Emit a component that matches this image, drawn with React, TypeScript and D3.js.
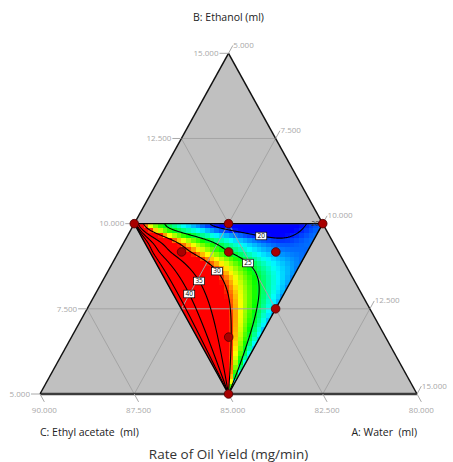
import * as d3 from "d3";
import { useMemo } from "react";

const W = 453;
const H = 462;

// design points (ml): A water, B ethanol, C ethyl acetate
const waterA = [5, 7.5, 10, 6.67, 7.92, 9.17, 10, 9.17, 10];
const ethanolB = [10, 10, 10, 9.17, 9.17, 9.17, 7.5, 6.67, 5];
const ethylC = [85, 82.5, 80, 84.17, 82.92, 81.67, 82.5, 84.17, 85];

// constrained design region corners
const regionA = [5, 10, 10];
const regionB = [10, 10, 5];

const bTicks = [5, 7.5, 10, 12.5, 15];
const aTicks = [5, 7.5, 10, 12.5, 15];
const cTicks = [80, 82.5, 85, 87.5, 90];

const levels = [20, 25, 30, 35, 40, 45];
const labelLevels = [20, 25, 30, 35, 40, 20];
// where each label sits, in pseudo coords (s across, t down)
const labelS = [0.686, 0.63, 0.423, 0.282, 0.152, 0.96];
const labelT = [0.043, 0.243, 0.278, 0.331, 0.413, 0.0];

// surface (pseudo components)
const floorCoef = [19.2, 1.3, 2.5];
const fanCoef = [29.5, 0.63, 0.82, 0.25, 0.00064, 2.5];
const lobeCoef = [4.14, 0.5, 0.14, 5.5];
const stripCoef = [2.55, 0.6, 0.31, -0.045, 0.22, 0.03];

const colorStops = [19.6, 23.0, 25.4, 28.0, 30.6];
const colorRange = ["#0000ff", "#00ffff", "#00ff00", "#ffff00", "#ff0000"];

const yOf = d3.scaleLinear().domain([5, 15]).range([394, 53.3]);
const shift = d3.scaleLinear().domain([5, 15]).range([0, 188.5]);
const xOfA = d3.scaleLinear().domain([5, 15]).range([40, 417]);
const px = (a: number, b: number): [number, number] => [xOfA(a) + shift(b), yOf(b)];

const color = d3
  .scaleLinear<string>()
  .domain(colorStops)
  .range(colorRange)
  .interpolate(d3.interpolateRgb)
  .clamp(true);

function surface(s: number, t: number) {
  const [f0, f1, f2] = floorCoef;
  const [D, K0, beta, c, e, n] = fanCoef;
  const [A, lam, tau, m] = lobeCoef;
  const [P, sc, ws, ta, tb, tmin] = stripCoef;
  const tn = Math.pow(t, n);
  const phi = (tn + e) / (tn + Math.pow(c, n) + e);
  const K = s / ((1 - s) * phi);
  const fan = D / (1 + Math.pow(K / K0, beta));
  const floor = f0 + (f1 + f2 * t) * Math.pow(s, 4);
  const lobe = A * Math.exp(-s / lam) * Math.exp(-Math.pow(t / tau, m));
  const td = Math.max(tmin, ta + tb * s);
  const strip =
    P * Math.exp(-Math.pow((s - sc) / ws, 4)) * Math.exp(-Math.pow(t / td, 2));
  return floor + fan + lobe - strip;
}

function valueAt(x: number, y: number) {
  const b = Math.min(10, Math.max(5.0001, yOf.invert(y)));
  const a = xOfA.invert(x - shift(b));
  let s = (a + b - 15) / (b - 5);
  s = Math.min(1 - 1e-6, Math.max(1e-6, s));
  const t = (10 - b) / 5;
  return surface(s, t);
}

const FONT = "'Segoe UI', 'Open Sans', sans-serif";
const TICK = "#a8a8a8";

export default function App() {
  const built = useMemo(() => {
    const tri = regionA.map((a, i) => px(a, regionB[i]));
    const [lx, ty] = tri[0];
    const rx = tri[1][0];
    const by = tri[2][1];
    const cw = (rx - lx) / 40;
    const cells: { x: number; y: number; fill: string }[] = [];
    for (let j = 0; ty + j * cw < by; j++) {
      for (let i = 0; i < 40; i++) {
        const x = lx + i * cw;
        const y = ty + j * cw;
        cells.push({ x, y, fill: color(valueAt(x + cw / 2, y + cw / 2)) });
      }
    }

    const gx0 = 126, gy0 = 216, nx = 206, ny = 186;
    const vals: number[] = new Array(nx * ny);
    for (let j = 0; j < ny; j++)
      for (let i = 0; i < nx; i++) vals[j * nx + i] = valueAt(gx0 + i, gy0 + j);
    const conts = d3.contours().size([nx, ny]).thresholds(levels)(vals);
    const toPx = (x: number, y: number): [number, number] => [gx0 + x - 0.5, gy0 + y - 0.5];
    const path = d3.geoPath(
      d3.geoTransform({
        point(x: number, y: number) {
          const p = toPx(x, y);
          (this as any).stream.point(p[0], p[1]);
        },
      })
    );
    const lines = conts.map((c) => ({ value: c.value, d: path(c as any) || "" }));

    const labels = labelLevels.map((lv, k) => {
      const s = labelS[k], t = labelT[k];
      const target = px(10 - 5 * (1 - t) * (1 - s), 10 - 5 * t);
      const c = conts.find((q) => q.value === lv);
      let best = target, bd = Infinity;
      if (c) {
        for (const poly of c.coordinates)
          for (const ring of poly)
            for (const [x, y] of ring) {
              const p = toPx(x, y);
              if (!d3.polygonContains(tri, p)) continue;
              const dd = (p[0] - target[0]) ** 2 + (p[1] - target[1]) ** 2;
              if (dd < bd) { bd = dd; best = p; }
            }
      }
      return { lv, x: best[0], y: best[1], edge: t === 0 };
    });
    return { tri, cells, cw, lines, labels };
  }, []);

  const { tri, cells, cw, lines, labels } = built;
  const outer = [px(5, 5), px(15, 5), px(5, 15)];
  const triPath = "M" + tri.map((p) => p.join(",")).join("L") + "Z";
  const up: [number, number] = [0.484, -0.875];
  const down: [number, number] = [0.484, 0.875];
  const tl = 9;

  const grid: [number, number][][] = [];
  [7.5, 10, 12.5].forEach((b) => grid.push([px(5, b), px(20 - b, b)]));
  [7.5, 10, 12.5].forEach((a) => grid.push([px(a, 5), px(a, 20 - a)]));
  [82.5, 85, 87.5].forEach((c) => grid.push([px(95 - c, 5), px(5, 95 - c)]));

  return (
    <div style={{ position: "absolute", left: 0, top: 0 }}>
      <svg width={W} height={H} style={{ display: "block", background: "#fff" }}>
        <defs>
          <clipPath id="region">
            <path d={triPath} />
          </clipPath>
        </defs>
        <polygon points={outer.map((p) => p.join(",")).join(" ")} fill="#c0c0c0" />
        <g clipPath="url(#region)" shapeRendering="crispEdges">
          {cells.map((c, i) => (
            <rect key={i} x={c.x} y={c.y} width={cw + 0.4} height={cw + 0.4} fill={c.fill} />
          ))}
        </g>
        <g stroke="#a4a4a4" strokeWidth={1}>
          {grid.map((g, i) => (
            <line key={i} x1={g[0][0]} y1={g[0][1]} x2={g[1][0]} y2={g[1][1]} />
          ))}
        </g>
        <g clipPath="url(#region)" fill="none" stroke="#000" strokeWidth={1.1}>
          {lines.map((l) => (
            <path key={l.value} d={l.d} />
          ))}
        </g>
        <path d={triPath} fill="none" stroke="#000" strokeWidth={1.4} />
        <line x1={outer[0][0]} y1={outer[0][1]} x2={outer[1][0]} y2={outer[1][1]} stroke="#3c3c3c" strokeWidth={2.6} />
        <line x1={outer[0][0]} y1={outer[0][1]} x2={outer[2][0]} y2={outer[2][1]} stroke="#111" strokeWidth={1.5} />
        <line x1={outer[1][0]} y1={outer[1][1]} x2={outer[2][0]} y2={outer[2][1]} stroke="#111" strokeWidth={1.5} />

        <g fontFamily={FONT} fontSize={8} fill={TICK}>
          {bTicks.map((b) => {
            const p = px(5, b);
            return (
              <g key={"b" + b}>
                <line x1={p[0]} y1={p[1]} x2={p[0] - tl} y2={p[1]} stroke={TICK} />
                <text x={p[0] - tl - 1} y={p[1]} dy="0.35em" textAnchor="end">
                  {d3.format(".3f")(b)}
                </text>
              </g>
            );
          })}
          {aTicks.map((a) => {
            const p = px(a, 20 - a);
            const e = [p[0] + up[0] * tl, p[1] + up[1] * tl];
            return (
              <g key={"a" + a}>
                <line x1={p[0]} y1={p[1]} x2={e[0]} y2={e[1]} stroke={TICK} />
                <text x={e[0] + 0.5} y={e[1]} dy="0.3em">
                  {d3.format(".3f")(a)}
                </text>
              </g>
            );
          })}
          {cTicks.map((c) => {
            const p = px(95 - c, 5);
            const e = [p[0] + down[0] * tl, p[1] + down[1] * tl];
            return (
              <g key={"c" + c}>
                <line x1={p[0]} y1={p[1]} x2={e[0]} y2={e[1]} stroke={TICK} />
                <text x={e[0]} y={e[1] + 11} textAnchor="middle">
                  {d3.format(".3f")(c)}
                </text>
              </g>
            );
          })}
        </g>

        <g fontFamily={FONT} fontSize={6.5}>
          {labels.map((l, i) =>
            l.edge ? (
              <text key={i} x={l.x + 9} y={l.y} dy="0.35em" textAnchor="middle" fill="#333">
                {l.lv}
              </text>
            ) : (
              <g key={i} transform={`translate(${l.x},${l.y})`}>
                <rect x={-5.5} y={-3.8} width={11} height={7.6} fill="#fff" stroke="#000" strokeWidth={0.7} />
                <text textAnchor="middle" dy="0.35em" fill="#000">
                  {l.lv}
                </text>
              </g>
            )
          )}
        </g>

        {waterA.map((a, i) => {
          const p = px(a, ethanolB[i]);
          return (
            <circle key={i} cx={p[0]} cy={p[1]} r={4.3} fill="#a80000" stroke="#4a0000" strokeWidth={0.8}>
              <title>{`A ${a}, B ${ethanolB[i]}, C ${ethylC[i]}`}</title>
            </circle>
          );
        })}

        <g fontFamily={FONT} fill="#222" style={{ whiteSpace: "pre" }}>
          <text x={228.5} y={20.5} fontSize={10.5} textAnchor="middle">B: Ethanol (ml)</text>
          <text x={40} y={436} fontSize={10.5} xmlSpace="preserve">{"C: Ethyl acetate\u00a0\u00a0(ml)"}</text>
          <text x={417} y={436} fontSize={10.5} textAnchor="end" xmlSpace="preserve">{"A: Water\u00a0\u00a0(ml)"}</text>
          <text x={228.5} y={459} fontSize={13.5} textAnchor="middle" fill="#333">
            Rate of Oil Yield (mg/min)
          </text>
        </g>
      </svg>
    </div>
  );
}
